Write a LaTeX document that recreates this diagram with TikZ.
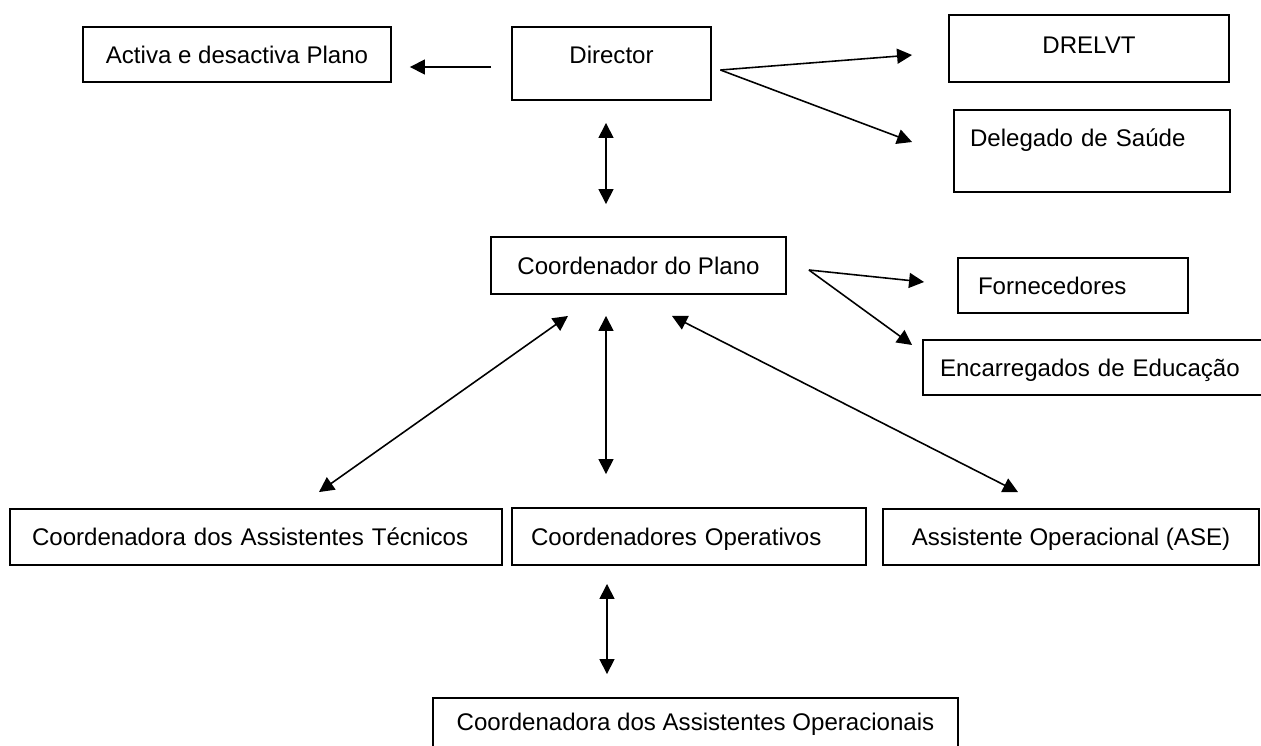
\documentclass[tikz,border=0pt]{standalone}
\usepackage{fontspec}
\setmainfont{Liberation Sans}
\usetikzlibrary{arrows.meta}

\begin{document}
\begin{tikzpicture}[x=0.02cm, y=-0.02cm,
		>={Triangle[length=0.3cm,width=0.3cm]},
		box/.style={draw, line width=1.1pt, inner sep=0pt, font=\fontsize{13.7}{16}\selectfont, text height=9.8pt, text depth=0pt},
		link/.style={line width=0.9pt}]
		
			\clip (0,0) rectangle (1261,745);
			
			% top row
			\node[box, minimum width=6.16cm, minimum height=1.10cm] (activa) at (237,54.5) {Activa e desactiva Plano};
			\node[box, minimum width=3.98cm, minimum height=1.46cm, text depth=9.7pt] (director) at (611.5,63.5) {Director};
			\node[box, minimum width=5.60cm, minimum height=1.34cm, text depth=4pt] (drelvt) at (1089,48.5) {DRELVT};
			\node[box, minimum height=1.64cm, text width=4.88cm, align=left, inner xsep=0.32cm, text depth=14.8pt] (delegado) at (1092,151) {\mbox{Delegado de Saúde}};
			
			% middle
			\node[box, minimum width=5.90cm, minimum height=1.14cm] (coordenador) at (638.5,265.5) {Coordenador do Plano};
			\node[box, minimum height=1.10cm, text width=3.80cm, align=left, inner xsep=0.40cm] (fornecedores) at (1073,285.5) {\mbox{Fornecedores}};
			\node[box, minimum height=1.10cm, text width=6.46cm, align=left, inner xsep=0.34cm] (encarregados) at (1101.5,367.5) {\mbox{Encarregados de Educação}};
			
			% bottom row
			\node[box, minimum height=1.12cm, text width=8.96cm, align=left, inner xsep=0.44cm] (tecnicos) at (256,537) {\mbox{Coordenadora dos Assistentes Técnicos}};
			\node[box, minimum height=1.14cm, text width=6.32cm, align=left, inner xsep=0.38cm] (operativos) at (689,536.5) {\mbox{Coordenadores Operativos}};
			\node[box, minimum width=7.52cm, minimum height=1.12cm] (ase) at (1071,537) {Assistente Operacional (ASE)};
			\node[box, minimum width=10.50cm, minimum height=1.12cm, text depth=4.5pt] (operacionais) at (695.5,726) {Coordenadora dos Assistentes Operacionais};
			
			% connectors
			\draw[link, ->] ([shift={(-20,3.5)}]director.west) -- ([shift={(18,12.5)}]activa.east);
			\draw[link, ->] ([shift={(8.5,6.5)}]director.east) -- ([shift={(-36,6.5)}]drelvt.west);
			\draw[link, ->] ([shift={(8.5,6.5)}]director.east) -- ([shift={(-41,-9)}]delegado.west);
			\draw[link, <->] ([shift={(-5.5,22)}]director.south) -- ([shift={(-32.5,-32)}]coordenador.north);
			
			\draw[link, ->] ([shift={(22,4.5)}]coordenador.east) -- ([shift={(-33,-3.5)}]fornecedores.west);
			\draw[link, ->] ([shift={(22,4.5)}]coordenador.east) -- ([shift={(-10,-22.5)}]encarregados.west);
			
			\draw[link, <->] ([shift={(-70.5,21)}]coordenador.south) -- ([shift={(63,-16)}]tecnicos.north);
			\draw[link, <->] ([shift={(-32.5,21)}]coordenador.south) -- ([shift={(-83,-33)}]operativos.north);
			\draw[link, <->] ([shift={(33.5,21)}]coordenador.south) -- ([shift={(-53,-16)}]ase.north);
			
			\draw[link, <->] ([shift={(-82,18)}]operativos.south) -- ([shift={(-88.5,-23)}]operacionais.north);
		
		\end{tikzpicture}
\end{document}
